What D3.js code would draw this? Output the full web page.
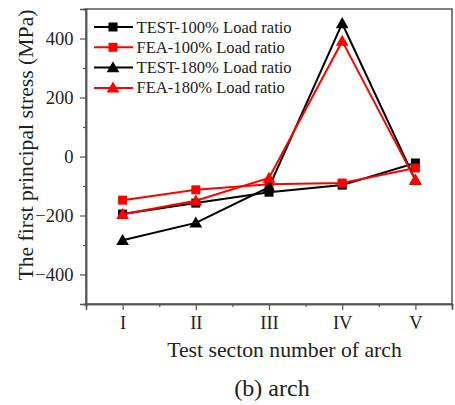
<!DOCTYPE html>
<html><head><meta charset="utf-8">
<script src="https://cdnjs.cloudflare.com/ajax/libs/d3/7.8.5/d3.min.js"></script>
<style>body{margin:0;background:#fff}svg{display:block}</style>
</head><body><div id="chart"></div>
<script>
const categories = ["I","II","III","IV","V"];
const test100 = [-195,-158,-121,-97,-22];
const fea100 = [-148,-113,-94,-90,-39];
const test180 = [-284,-225,-104,451,-80];
const fea180 = [-196,-150,-73,391,-80];
const seriesNames = ["TEST-100% Load ratio","FEA-100% Load ratio","TEST-180% Load ratio","FEA-180% Load ratio"];
const yTicks = [-400,-200,0,200,400];

const FONT='"Liberation Serif", "Times New Roman", Times, serif';
const W=455,H=405;
const m={l:86,r:3,t:9,b:101};
const svg=d3.select("#chart").append("svg").attr("width",W).attr("height",H).style("font-family",FONT);
const x=d3.scaleLinear().domain([0.5,5.5]).range([m.l,W-m.r]);
const y=d3.scaleLinear().domain([-500,500]).range([H-m.b,m.t]);
const axisCol="#555";
const txtCol="#222";

svg.append("rect").attr("x",m.l).attr("y",m.t).attr("width",W-m.r-m.l).attr("height",H-m.b-m.t)
  .attr("fill","none").attr("stroke",axisCol).attr("stroke-width",1.5);

const gx=svg.append("g").attr("transform",`translate(0,${H-m.b})`);
gx.call(d3.axisBottom(x).tickValues([1,2,3,4,5]).tickFormat((d,i)=>categories[i]).tickSize(6).tickPadding(6));
gx.append("g").call(d3.axisBottom(x).tickValues([0.5,1.5,2.5,3.5,4.5,5.5]).tickFormat("").tickSize(3));
const gy=svg.append("g").attr("transform",`translate(${m.l},0)`);
gy.call(d3.axisLeft(y).tickValues(yTicks).tickSize(6).tickPadding(6.5));
gy.append("g").call(d3.axisLeft(y).tickValues([-500,-300,-100,100,300,500]).tickFormat("").tickSize(3));
svg.selectAll("g").attr("font-family",null).attr("font-size",null);
svg.selectAll(".domain").attr("stroke",axisCol).attr("stroke-width",1.5);
svg.selectAll(".tick line").attr("stroke",axisCol).attr("stroke-width",1.2);
svg.selectAll(".tick text").style("font-family",FONT).style("font-size","18.5px").attr("fill",txtCol);

const data=[
 {name:seriesNames[0],vals:test100,color:"#000",shape:"square"},
 {name:seriesNames[1],vals:fea100,color:"#f00",shape:"square"},
 {name:seriesNames[2],vals:test180,color:"#000",shape:"triangle"},
 {name:seriesNames[3],vals:fea180,color:"#f00",shape:"triangle"}
];
const line=d3.line().x((d,i)=>x(i+1)).y(d=>y(d));
function marker(g,shape,color,cx,cy){
  if(shape==="square") g.append("rect").attr("x",cx-4.5).attr("y",cy-4.5).attr("width",9).attr("height",9).attr("fill",color);
  else g.append("path").attr("d",d3.symbol(d3.symbolTriangle,70)()).attr("transform",`translate(${cx},${cy+1})`).attr("fill",color);
}
data.forEach(s=>{
  svg.append("path").datum(s.vals).attr("d",line).attr("fill","none").attr("stroke",s.color).attr("stroke-width",2);
  const g=svg.append("g");
  s.vals.forEach((v,i)=>marker(g,s.shape,s.color,x(i+1),y(v)));
});

const lg=svg.append("g");
data.forEach((s,i)=>{
  const yy=27+i*20.3;
  lg.append("line").attr("x1",94).attr("x2",133).attr("y1",yy).attr("y2",yy).attr("stroke",s.color).attr("stroke-width",2);
  marker(lg,s.shape,s.color,113,yy);
  lg.append("text").attr("x",136.5).attr("y",yy+5.5).style("font-family",FONT).style("font-size","16.6px").attr("fill",txtCol).text(s.name);
});

svg.append("text").attr("x",284.5).attr("y",356.5).attr("text-anchor","middle").style("font-family",FONT).style("font-size","21.7px").attr("fill",txtCol).text("Test secton number of arch");
svg.append("text").attr("transform",`translate(33,145) rotate(-90)`).attr("text-anchor","middle").style("font-family",FONT).style("font-size","21.7px").attr("fill",txtCol).text("The first principal stress (MPa)");
svg.append("text").attr("x",272).attr("y",396).attr("text-anchor","middle").style("font-family",FONT).style("font-size","24px").attr("fill",txtCol).text("(b) arch");
</script></body></html>
